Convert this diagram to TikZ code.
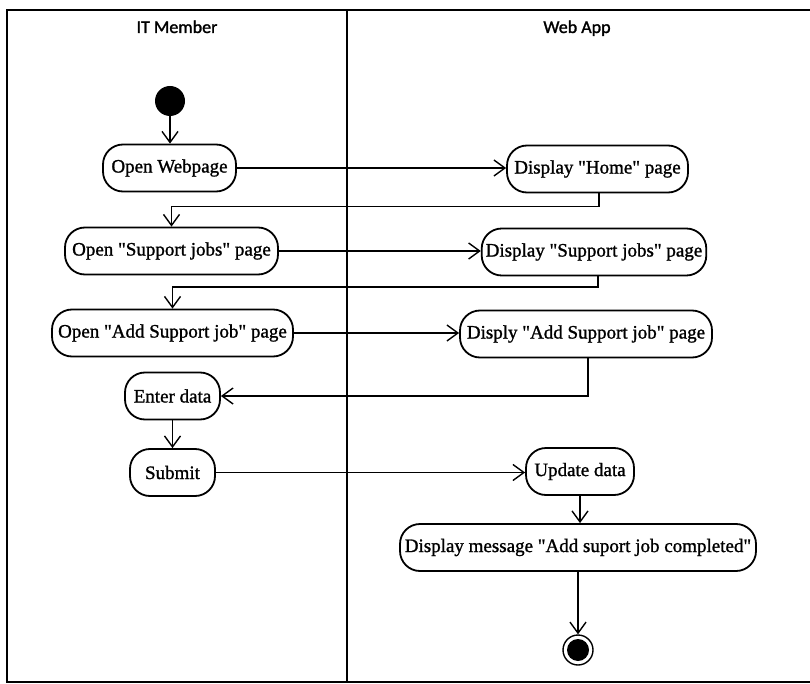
\documentclass[tikz,border=0pt]{standalone}
\usepackage{fontspec}
\setmainfont{Liberation Serif}[FakeBold=1.2]
\newfontfamily\headfont{Carlito}[FakeBold=1.5]
\usetikzlibrary{arrows.meta,calc}
\newcommand{\qq}[1]{\textquotedbl#1\textquotedbl}
\begin{document}
\begin{tikzpicture}[x=1pt,y=-1pt,
  act/.style={draw, line width=1.8pt, rounded corners=20pt, minimum height=47pt,
    inner xsep=4pt, font=\fontsize{19}{22}\selectfont},
  flow/.style={line width=1.8pt, -{Straight Barb[length=11pt,width=16pt,line width=1.4pt]}},
  lane/.style={line width=1.8pt},
  head/.style={anchor=base, font=\headfont\fontsize{18}{21}\selectfont}]
\useasboundingbox (0,0) rectangle (810,684);

% swimlane frame
\draw[lane] (812,10) -- (7,10) -- (7,682) -- (812,682);
\draw[lane] (347,10) -- (347,682);
\node[head] (hIT) at (177,33) {IT Member};
\node[head] (hWA) at (577,33) {Web App};

% start and end
\node[circle, fill=black, minimum size=30pt, inner sep=0pt] (init) at (170,101) {};
\node[circle, draw, line width=1.4pt, minimum size=30pt, inner sep=0pt,
  path picture={\fill (path picture bounding box.center) circle (11pt);}] (final) at (578,650) {};

% IT Member actions
\node[act, minimum width=133pt] (ow) at (169.5,168) {Open Webpage};
\node[act, minimum width=213pt] (os) at (171.5,251) {Open \qq{Support jobs} page};
\node[act, minimum width=241pt] (oa) at (172.5,333) {Open \qq{Add Support job} page};
\node[act, minimum width=95pt]  (ed) at (172.5,396) {Enter data};
\node[act, minimum width=85pt]  (sb) at (172.5,472.5) {Submit};

% Web App actions
\node[act, minimum width=181pt] (dh) at (597.5,169) {Display \qq{Home} page};
\node[act, minimum width=222pt] (ds) at (594,252) {Display \qq{Support jobs} page};
\node[act, minimum width=252pt] (da) at (586,334) {Disply \qq{Add Support job} page};
\node[act, minimum width=108pt] (ud) at (580,471.5) {Update data};
\node[act, minimum width=356pt] (dm) at (578,547.5) {Display message \qq{Add suport job completed}};

% control flow
\draw[flow] (init.south) -- (init.south |- ow.north);
\draw[flow] (ow.east) -- (ow.east -| dh.west);
\draw[flow] ($(dh.south)+(1.5,0)$) |- ($(os.north)+(0,-20)$) -- (os.north);
\draw[flow] (os.east) -- (os.east -| ds.west);
\draw[flow] ($(ds.south)+(4,0)$) |- ($(oa.north)+(0,-22)$) -- (oa.north);
\draw[flow] (oa.east) -- (oa.east -| da.west);
\draw[flow] ($(da.south)+(2,0)$) |- (ed.east);
\draw[flow] (ed.south) -- (ed.south |- sb.north);
\draw[flow] (sb.east) -- (sb.east -| ud.west);
\draw[flow] (ud.south) -- (ud.south |- dm.north);
\draw[flow] (dm.south) -- (dm.south |- final.north);
\end{tikzpicture}
\end{document}
